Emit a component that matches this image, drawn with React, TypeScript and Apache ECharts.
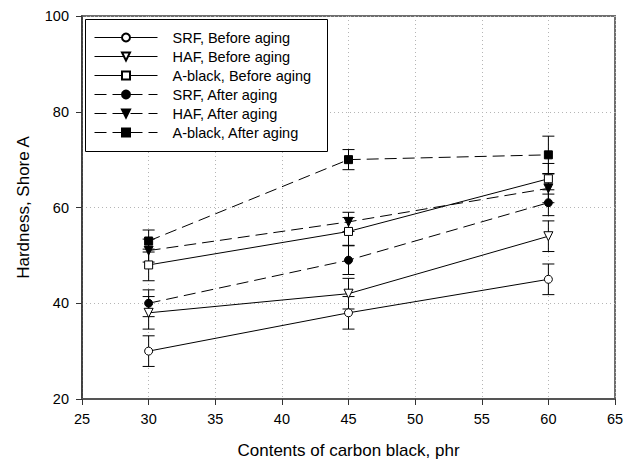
import React, { useEffect, useRef } from "react";
import * as echarts from "echarts";

// Carbon black loading (phr)
const loadings = [30, 45, 60];

// Shore A hardness, before ageing
const srfBefore = [30, 38, 45];
const hafBefore = [38, 42, 54];
const aBlackBefore = [48, 55, 66];

// Shore A hardness, after ageing
const srfAfter = [40, 49, 61];
const hafAfter = [51, 57, 64];
const aBlackAfter = [53, 70, 71];

// Standard deviations (±)
const srfBeforeErr = [3.2, 3.4, 3.2];
const hafBeforeErr = [3.4, 3.2, 3.2];
const aBlackBeforeErr = [3.3, 2.9, 3.2];
const srfAfterErr = [2.8, 3.0, 2.7];
const hafAfterErr = [2.4, 2.0, 3.0];
const aBlackAfterErr = [2.3, 2.1, 3.9];

const seriesNames = [
  "SRF, Before aging",
  "HAF, Before aging",
  "A-black, Before aging",
  "SRF, After aging",
  "HAF, After aging",
  "A-black, After aging",
];

const FONT = "'Liberation Sans', Arial, sans-serif";

type SeriesDef = {
  name: string;
  values: number[];
  errors: number[];
  symbol: string;
  rotate: number;
  filled: boolean;
  dashed: boolean;
};

const defs: SeriesDef[] = [
  { name: seriesNames[0], values: srfBefore, errors: srfBeforeErr, symbol: "circle", rotate: 0, filled: false, dashed: false },
  { name: seriesNames[1], values: hafBefore, errors: hafBeforeErr, symbol: "triangle", rotate: 180, filled: false, dashed: false },
  { name: seriesNames[2], values: aBlackBefore, errors: aBlackBeforeErr, symbol: "rect", rotate: 0, filled: false, dashed: false },
  { name: seriesNames[3], values: srfAfter, errors: srfAfterErr, symbol: "circle", rotate: 0, filled: true, dashed: true },
  { name: seriesNames[4], values: hafAfter, errors: hafAfterErr, symbol: "triangle", rotate: 180, filled: true, dashed: true },
  { name: seriesNames[5], values: aBlackAfter, errors: aBlackAfterErr, symbol: "rect", rotate: 0, filled: true, dashed: true },
];

export default function App() {
  const ref = useRef<HTMLDivElement>(null);

  useEffect(() => {
    if (!ref.current) return;
    const chart = echarts.init(ref.current, undefined, { renderer: "svg" });

    const errorData: number[][] = [];
    defs.forEach((d) => {
      d.values.forEach((v, i) => {
        errorData.push([loadings[i], v - d.errors[i], v + d.errors[i]]);
      });
    });

    const lineSeries = defs.map((d) => ({
      name: d.name,
      type: "line",
      z: 3,
      data: d.values.map((v, i) => [loadings[i], v]),
      symbol: d.symbol,
      symbolSize: d.symbol === "triangle" ? 9 : 8,
      symbolRotate: d.rotate,
      showAllSymbol: true,
      lineStyle: {
        color: "#000",
        width: 1,
        type: d.dashed ? [12, 6] : "solid",
      },
      itemStyle: {
        color: d.filled ? "#000" : "#fff",
        borderColor: "#000",
        borderWidth: 1,
      },
      emphasis: { disabled: true },
    }));

    const option: any = {
      animation: false,
      grid: {
        left: 82,
        right: 22,
        top: 16,
        bottom: 63,
        show: true,
        borderColor: "#6e6e6e",
        borderWidth: 2,
        backgroundColor: "transparent",
      },
      // Legend frame
      graphic: [
        {
          type: "rect",
          z: 5,
          zlevel: 0,
          shape: { x: 85.5, y: 19.5, width: 242, height: 132 },
          style: { fill: "#fff", stroke: "#000", lineWidth: 1 },
        },
      ],
      legend: {
        data: seriesNames,
        orient: "vertical",
        left: 85,
        top: 19,
        z: 6,
        padding: [11, 15, 11, 9],
        itemWidth: 63,
        itemHeight: 10,
        itemGap: 4,
        selectedMode: false,
        lineStyle: { width: 1 },
        textStyle: {
          fontFamily: FONT,
          fontSize: 14.5,
          color: "#000",
          padding: [0, 0, 0, 10],
        },
      },
      xAxis: {
        type: "value",
        min: 25,
        max: 65,
        interval: 5,
        name: "Contents of carbon black, phr",
        nameLocation: "middle",
        nameGap: 43,
        nameTextStyle: { fontFamily: FONT, fontSize: 17, color: "#000" },
        axisLine: { show: true, lineStyle: { color: "#555", width: 2 } },
        axisTick: { show: true, inside: false, length: 6, lineStyle: { color: "#333", width: 1 } },
        axisLabel: { fontFamily: FONT, fontSize: 14.5, color: "#000", margin: 12 },
        splitLine: { show: true, lineStyle: { color: "#b5b5b5", type: [1, 3], width: 1 } },
      },
      yAxis: {
        type: "value",
        min: 20,
        max: 100,
        interval: 20,
        name: "Hardness, Shore A",
        nameLocation: "middle",
        nameRotate: 90,
        nameGap: 50,
        nameTextStyle: { fontFamily: FONT, fontSize: 17, color: "#000" },
        axisLine: { show: true, lineStyle: { color: "#333", width: 1.5 } },
        axisTick: { show: true, inside: false, length: 6, lineStyle: { color: "#333", width: 1 } },
        axisLabel: { fontFamily: FONT, fontSize: 14.5, color: "#000", margin: 13 },
        splitLine: { show: true, lineStyle: { color: "#b5b5b5", type: [1, 3], width: 1 } },
      },
      series: [
        {
          name: "error",
          type: "custom",
          z: 2,
          data: errorData,
          encode: { x: 0, y: [1, 2] },
          silent: true,
          renderItem: (_params: any, api: any) => {
            const x = api.value(0);
            const lo = api.value(1);
            const hi = api.value(2);
            const top = api.coord([x, hi]);
            const bot = api.coord([x, lo]);
            const half = 6;
            const style = { stroke: "#000", lineWidth: 1 };
            return {
              type: "group",
              children: [
                { type: "line", shape: { x1: top[0], y1: top[1], x2: bot[0], y2: bot[1] }, style },
                { type: "line", shape: { x1: top[0] - half, y1: top[1], x2: top[0] + half, y2: top[1] }, style },
                { type: "line", shape: { x1: bot[0] - half, y1: bot[1], x2: bot[0] + half, y2: bot[1] }, style },
              ],
            };
          },
        },
        ...lineSeries,
      ],
    };

    chart.setOption(option);
    return () => chart.dispose();
  }, []);

  return (
    <div
      ref={ref}
      style={{ position: "fixed", left: 0, top: 0, width: 637, height: 464, background: "#fff" }}
    />
  );
}
